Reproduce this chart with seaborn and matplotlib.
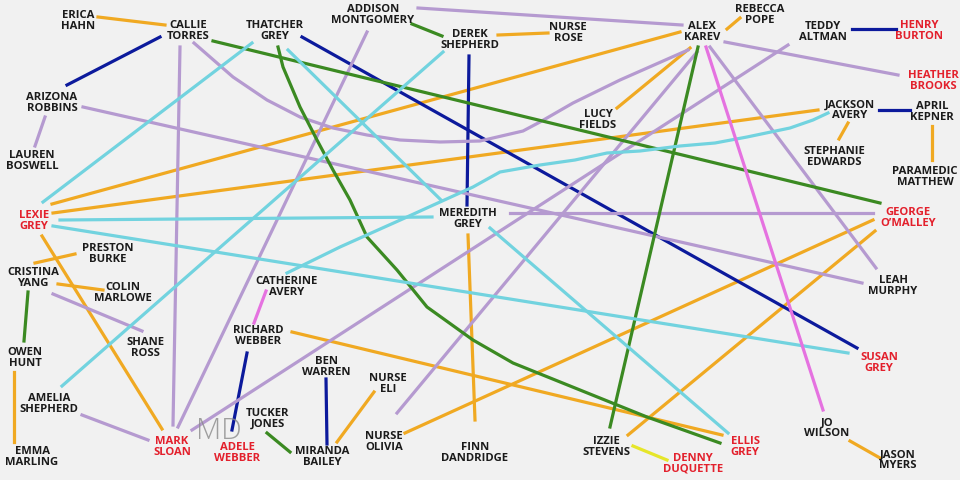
import matplotlib
matplotlib.use("Agg")
import matplotlib.pyplot as plt
import numpy as np
import pandas as pd
import seaborn as sns

# Character labels: name, x, y (picture pixels), red text or not
names = ["ERICA\nHAHN", "CALLIE\nTORRES", "THATCHER\nGREY", "ADDISON\nMONTGOMERY",
         "DEREK\nSHEPHERD", "NURSE\nROSE", "ALEX\nKAREV", "REBECCA\nPOPE",
         "TEDDY\nALTMAN", "HENRY\nBURTON", "HEATHER\nBROOKS", "ARIZONA\nROBBINS",
         "LAUREN\nBOSWELL", "LUCY\nFIELDS", "JACKSON\nAVERY", "APRIL\nKEPNER",
         "STEPHANIE\nEDWARDS", "PARAMEDIC\nMATTHEW", "LEXIE\nGREY", "MEREDITH\nGREY",
         "GEORGE\nO\u2019MALLEY", "PRESTON\nBURKE", "CRISTINA\nYANG", "COLIN\nMARLOWE",
         "CATHERINE\nAVERY", "LEAH\nMURPHY", "RICHARD\nWEBBER", "SHANE\nROSS",
         "OWEN\nHUNT", "BEN\nWARREN", "NURSE\nELI", "SUSAN\nGREY",
         "AMELIA\nSHEPHERD", "TUCKER\nJONES", "MARK\nSLOAN", "ADELE\nWEBBER",
         "MIRANDA\nBAILEY", "NURSE\nOLIVIA", "FINN\nDANDRIDGE", "IZZIE\nSTEVENS",
         "ELLIS\nGREY", "DENNY\nDUQUETTE", "JO\nWILSON", "JASON\nMYERS",
         "EMMA\nMARLING"]
name_x = [78, 188, 275, 373, 470, 568, 702, 760, 823, 919, 933, 52, 32, 598, 850, 932,
          834, 925, 34, 468, 908, 108, 33, 123, 287, 893, 258, 145, 25, 326, 388, 879,
          49, 268, 172, 237, 322, 384, 475, 606, 745, 693, 827, 898, 32]
name_y = [21, 31, 31, 15, 40, 33, 32, 15, 32, 31, 81, 103, 161, 120, 110, 112,
          157, 177, 221, 219, 218, 254, 278, 293, 287, 286, 336, 348, 358, 367, 384, 363,
          404, 419, 447, 453, 457, 442, 453, 447, 447, 464, 428, 460, 457]
is_red = [0, 0, 0, 0, 0, 0, 0, 0, 0, 1, 1, 0, 0, 0, 0, 0,
          0, 0, 1, 0, 1, 0, 0, 0, 0, 0, 0, 0, 0, 0, 0, 1,
          0, 0, 1, 1, 0, 0, 0, 0, 1, 1, 0, 0, 0]

# Straight links: start and end points, link colour
edge_x0 = [98, 160, 45, 213, 180, 302, 288, 252, 418, 412, 367, 498, 469, 443, 52, 53,
           60, 53, 42, 83, 510, 468, 490, 727, 725, 690, 698, 706, 710, 697, 788, 852,
           879, 848, 932, 873, 875, 292, 254, 247, 35, 58, 53, 28, 14, 82, 267, 326,
           374, 633, 850]
edge_y0 = [17, 37, 117, 41, 47, 37, 50, 43, 8, 24, 32, 35, 56, 52, 204, 213,
           220, 226, 236, 107, 213, 235, 228, 29, 42, 48, 47, 47, 47, 52, 45, 29,
           110, 123, 126, 220, 231, 332, 323, 353, 263, 284, 294, 292, 372, 415, 433, 379,
           392, 446, 441]
edge_x1 = [165, 67, 35, 880, 173, 857, 441, 43, 682, 442, 178, 548, 467, 62, 680, 818,
           432, 848, 162, 862, 873, 475, 728, 740, 898, 617, 610, 823, 876, 397, 192, 896,
           910, 839, 932, 405, 628, 722, 266, 232, 75, 103, 142, 24, 14, 148, 290, 327,
           337, 667, 880]
edge_y1 = [25, 85, 146, 203, 425, 348, 200, 202, 25, 36, 427, 33, 205, 386, 32, 110,
           217, 353, 429, 283, 213, 420, 433, 18, 75, 108, 427, 410, 268, 413, 430, 29,
           110, 139, 160, 433, 435, 435, 291, 430, 254, 290, 331, 341, 442, 440, 452, 444,
           442, 460, 458]
edge_kind = ["orange", "navy", "purple", "green", "purple", "navy", "cyan", "cyan",
             "purple", "green", "purple", "orange", "navy", "cyan", "orange", "orange",
             "cyan", "cyan", "orange", "purple", "purple", "orange", "cyan", "orange",
             "purple", "orange", "green", "pink", "purple", "purple", "purple", "navy",
             "navy", "orange", "orange", "orange", "orange", "orange", "pink", "navy",
             "orange", "orange", "purple", "green", "orange", "purple", "green", "navy",
             "orange", "yellow", "orange"]

# Hand-drawn curved links (traced points)
callie_alex_x = [194, 233, 267, 300, 333, 367, 400, 440, 480, 523, 540, 573, 620, 688]
callie_alex_y = [43, 77, 100, 117, 128, 135, 140, 142, 141, 131, 122, 103, 80, 50]
thatcher_ellis_x = [278, 283, 300, 317, 333, 350, 367, 397, 427, 473, 513, 580, 647, 720]
thatcher_ellis_y = [47, 67, 107, 140, 170, 200, 237, 270, 307, 340, 363, 390, 417, 443]
catherine_jackson_x = [287, 340, 407, 473, 500, 540, 575, 607, 640, 680, 715, 747, 790, 813, 828]
catherine_jackson_y = [273, 247, 217, 187, 172, 165, 160, 153, 151, 146, 143, 137, 128, 120, 113]

palette = {"orange": "#f0a922", "navy": "#0c1a9c", "purple": "#b59ad0",
           "green": "#3b8a22", "cyan": "#72d3df", "pink": "#e572e0", "yellow": "#e6e62a"}

rows = []
for i in range(len(edge_x0)):
    rows.append({"edge": i, "x": edge_x0[i], "y": edge_y0[i], "kind": edge_kind[i]})
    rows.append({"edge": i, "x": edge_x1[i], "y": edge_y1[i], "kind": edge_kind[i]})
curves = [(callie_alex_x, callie_alex_y, "purple"),
          (thatcher_ellis_x, thatcher_ellis_y, "green"),
          (catherine_jackson_x, catherine_jackson_y, "cyan")]
for j, (cx, cy, kind) in enumerate(curves):
    for px, py in zip(cx, cy):
        rows.append({"edge": 100 + j, "x": px, "y": py, "kind": kind})
df = pd.DataFrame(rows)

fig = plt.figure(figsize=(9.6, 4.8), dpi=100, facecolor="#f1f1f1")
ax = fig.add_axes([0, 0, 1, 1])

sns.lineplot(data=df, x="x", y="y", units="edge", estimator=None, hue="kind",
             palette=palette, sort=False, linewidth=2.3, legend=False, ax=ax)

for name, x, y, red in zip(names, name_x, name_y, is_red):
    ax.text(x, y, name, ha="center", va="center", fontsize=8.1,
            family=["Open Sans", "DejaVu Sans"], weight="bold",
            color="#e3202c" if red else "#1b1b1b", linespacing=0.9)

# faint watermark
ax.text(219, 431, "MD", ha="center", va="center", fontsize=21,
        family=["Open Sans", "DejaVu Sans"], weight="light", color="#8a8a8a", alpha=0.8)

ax.set_xlim(0, 960)
ax.set_ylim(480, 0)
ax.set_axis_off()

fig.savefig("out.png", dpi=100, facecolor=fig.get_facecolor())
